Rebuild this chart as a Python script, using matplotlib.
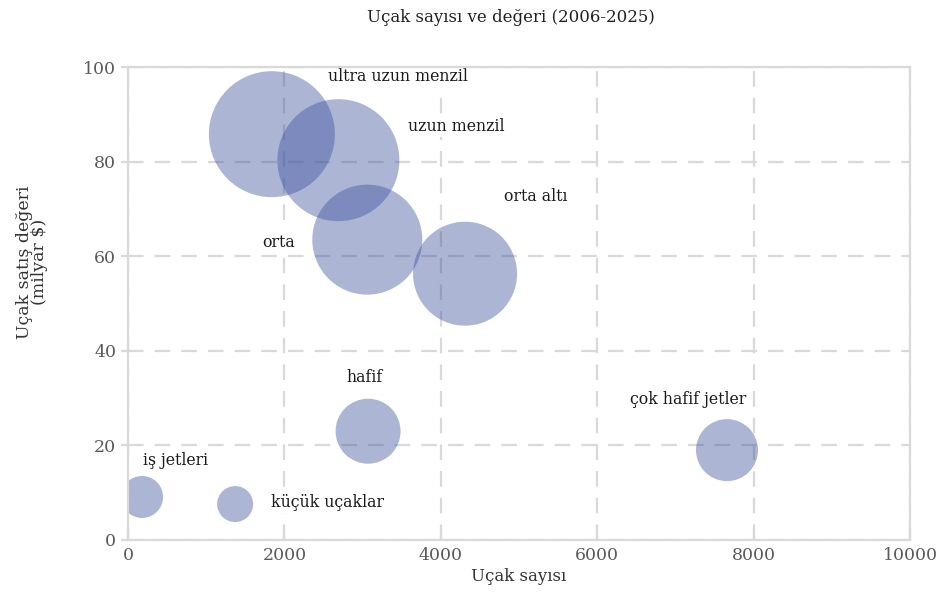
import numpy as np
import matplotlib
matplotlib.use('Agg')
from matplotlib import pyplot as plt

# Bubble data
categories = ['iş jetleri', 'küçük uçaklar', 'hafif', 'çok hafif jetler',
              'orta', 'orta altı', 'uzun menzil', 'ultra uzun menzil']
aircraft_count = [180, 1370, 3070, 7660, 3060, 4310, 2690, 1840]
sales_value = [9.1, 7.6, 23.0, 19.0, 63.5, 56.3, 80.3, 85.8]
bubble_size = [42, 36, 65, 62, 110, 104, 122, 126]  # diameter, px

# label anchor points (data coords)
label_x = [610, 2550, 3030, 7160, 1920, 5220, 4200, 3450]
label_y = [16.9, 8.0, 34.4, 29.6, 63.0, 72.7, 87.5, 97.9]

plt.rcParams['font.family'] = ['DejaVu Serif']
plt.rcParams['font.size'] = 10

fig = plt.figure(figsize=(9.45, 6.08), dpi=100)
ax = fig.add_axes([128 / 945, 1 - 540 / 608, 782 / 945, 473 / 608])

grid_col = '#d9d9d9'
ax.set_axisbelow(True)
ax.grid(True, color=grid_col, linestyle=(0, (7, 5)), linewidth=1.6)

# sizes given as pixel diameters -> points^2
sizes = [(d * 72 / 100) ** 2 for d in bubble_size]
ax.scatter(aircraft_count, sales_value, s=sizes, color='#3c509c', alpha=0.42,
           edgecolors='none', zorder=3)

for name, lx, ly in zip(categories, label_x, label_y):
    ax.text(lx, ly, name, ha='center', va='center', fontsize=11.3,
            color='#1a1a1a', zorder=4,
            bbox=dict(facecolor='white', edgecolor='none', pad=1.5))

ax.set_xlim(0, 10000)
ax.set_ylim(0, 100)
ax.set_xticks(np.arange(0, 10001, 2000))
ax.set_yticks(np.arange(0, 101, 20))

for sp in ax.spines.values():
    sp.set_color(grid_col)
    sp.set_linewidth(1.6)
    sp.set_zorder(5)

ax.tick_params(axis='both', colors=grid_col, labelcolor='#5a5a5a',
               labelsize=12.5, width=1.6, length=5)
ax.tick_params(axis='x', direction='in', length=8, pad=5)

ax.set_xlabel('Uçak sayısı', fontsize=12, color='#333333', labelpad=3)
ax.set_ylabel('Uçak satış değeri\n(milyar $)', fontsize=12.5, color='#333333',
              linespacing=0.85)
ax.yaxis.set_label_coords(-0.102, 0.588)

fig.text(0.541, 0.972, 'Uçak sayısı ve değeri (2006-2025)', ha='center',
         va='center', fontsize=12, color='#222222')

fig.savefig('out.png', dpi=100)
